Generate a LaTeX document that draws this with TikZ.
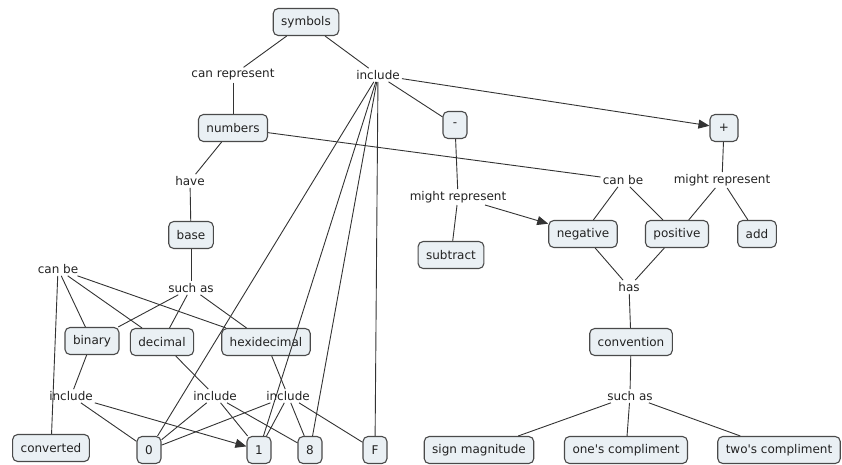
\documentclass[tikz,border=0pt]{standalone}
\usepackage{fontspec}
\setmainfont{DejaVu Sans}
\usetikzlibrary{arrows.meta}
\definecolor{boxfill}{HTML}{EAF0F4}
\definecolor{boxline}{HTML}{4A4A4A}
\definecolor{ln}{HTML}{333333}
\definecolor{txt}{HTML}{222222}
\begin{document}
\begin{tikzpicture}[x=1pt,y=-1pt,
  concept/.style={draw=boxline, fill=boxfill, rounded corners=5pt, line width=1.1pt,
    font=\fontsize{12}{14}\selectfont, text=txt, minimum height=27pt, inner xsep=8pt, minimum width=24pt},
  phrase/.style={font=\fontsize{12}{14}\selectfont, text=txt, inner sep=2pt},
  conn/.style={draw=ln, line width=0.9pt},
  arr/.style={conn, -{Triangle[length=11pt,width=9pt]}}]
\useasboundingbox (0,0) rectangle (842,465);
% concepts
\node[concept] (symbols) at (306,22) {symbols};
\node[concept] (numbers) at (233,128) {numbers};
\node[concept] (minus) at (455,125) {-};
\node[concept,minimum width=28pt] (plus) at (724,128) {+};
\node[concept] (base) at (191,235) {base};
\node[concept] (subtract) at (451,255) {subtract};
\node[concept] (negative) at (583,234) {negative};
\node[concept] (positive) at (677,234) {positive};
\node[concept] (add) at (757,234) {add};
\node[concept] (convention) at (631,342) {convention};
\node[concept] (signmag) at (479,450) {sign magnitude};
\node[concept] (ones) at (626,450) {one\textquotesingle s compliment};
\node[concept] (twos) at (779,450) {two\textquotesingle s compliment};
\node[concept] (binary) at (92,341) {binary};
\node[concept] (decimal) at (162,342) {decimal};
\node[concept] (hexa) at (266,342) {hexidecimal};
\node[concept] (converted) at (51,448) {converted};
\node[concept] (zero) at (149,450) {0};
\node[concept] (one) at (259,450) {1};
\node[concept] (eight) at (310,450) {8};
\node[concept] (F) at (375,450) {F};
% phrases
\node[phrase] (canrep) at (233,75) {can represent};
\node[phrase] (inctop) at (378,75) {include};
\node[phrase] (have) at (190,181) {have};
\node[phrase] (mightL) at (458,197) {might represent};
\node[phrase] (canbeR) at (623,180) {can be};
\node[phrase] (mightR) at (722,180) {might represent};
\node[phrase] (has) at (629,287) {has};
\node[phrase] (suchR) at (630,396) {such as};
\node[phrase] (canbeL) at (58,269) {can be};
\node[phrase] (suchL) at (191,288) {such as};
\node[phrase] (inc1) at (71,396) {include};
\node[phrase] (inc2) at (215,396) {include};
\node[phrase] (inc3) at (288,396) {include};
% connectors
\draw[conn] (symbols) -- (canrep);
\draw[conn] (canrep) -- (numbers);
\draw[conn] (symbols) -- (inctop);
\draw[conn] (inctop) -- (minus);
\draw[arr] (inctop) -- (plus);
\draw[conn] (inctop) -- (zero);
\draw[conn] (inctop) -- (one);
\draw[conn] (inctop) -- (eight);
\draw[conn] (inctop) -- (F);
\draw[conn] (numbers) -- (have);
\draw[conn] (have) -- (base);
\draw[conn] (numbers) -- (canbeR);
\draw[conn] (canbeR) -- (negative);
\draw[conn] (canbeR) -- (positive);
\draw[conn] (plus) -- (mightR);
\draw[conn] (mightR) -- (positive);
\draw[conn] (mightR) -- (add);
\draw[conn] (minus) -- (mightL);
\draw[conn] (mightL) -- (subtract);
\draw[arr] (mightL) -- (negative);
\draw[conn] (negative) -- (has);
\draw[conn] (positive) -- (has);
\draw[conn] (has) -- (convention);
\draw[conn] (convention) -- (suchR);
\draw[conn] (suchR) -- (signmag);
\draw[conn] (suchR) -- (ones);
\draw[conn] (suchR) -- (twos);
\draw[conn] (base) -- (suchL);
\draw[conn] (suchL) -- (binary);
\draw[conn] (suchL) -- (decimal);
\draw[conn] (suchL) -- (hexa);
\draw[conn] (canbeL) -- (binary);
\draw[conn] (canbeL) -- (decimal);
\draw[conn] (canbeL) -- (hexa);
\draw[conn] (canbeL) -- (converted);
\draw[conn] (binary) -- (inc1);
\draw[conn] (inc1) -- (zero);
\draw[arr] (inc1) -- (one);
\draw[conn] (decimal) -- (inc2);
\draw[conn] (inc2) -- (zero);
\draw[conn] (inc2) -- (one);
\draw[conn] (inc2) -- (eight);
\draw[conn] (hexa) -- (inc3);
\draw[conn] (inc3) -- (zero);
\draw[conn] (inc3) -- (one);
\draw[conn] (inc3) -- (eight);
\draw[conn] (inc3) -- (F);
\end{tikzpicture}
\end{document}
